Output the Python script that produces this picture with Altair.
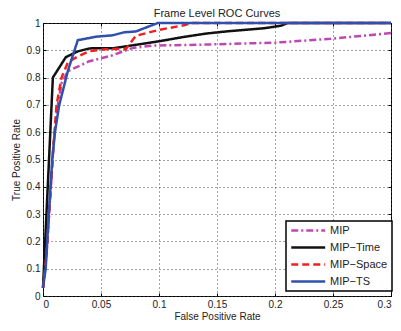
import altair as alt
import pandas as pd

series_names = ["MIP", "MIP−Time", "MIP−Space", "MIP−TS"]
series_colors = ["#bf48b0", "#111111", "#f02020", "#3050b0"]
series_dashes = [[7, 3, 2, 3], [1, 0], [7, 4], [1, 0]]

mip_fpr = [0, 0.003, 0.006, 0.009, 0.012, 0.016, 0.0216, 0.04, 0.06, 0.077, 0.094, 0.14, 0.2, 0.248, 0.3]
mip_tpr = [0.03, 0.15, 0.35, 0.55, 0.68, 0.78, 0.824, 0.86, 0.882, 0.908, 0.917, 0.921, 0.928, 0.942, 0.963]

time_fpr = [0, 0.0085, 0.0197, 0.03, 0.04, 0.0615, 0.08, 0.1, 0.12, 0.14, 0.16, 0.191, 0.205, 0.211, 0.3]
time_tpr = [0.03, 0.8, 0.875, 0.896, 0.907, 0.908, 0.92, 0.933, 0.948, 0.961, 0.97, 0.981, 0.99, 1.0, 1.0]

space_fpr = [0, 0.003, 0.006, 0.009, 0.0117, 0.016, 0.0216, 0.029, 0.04, 0.054, 0.0715, 0.08, 0.1, 0.123, 0.127, 0.3]
space_tpr = [0.03, 0.15, 0.35, 0.55, 0.7, 0.8, 0.857, 0.875, 0.897, 0.904, 0.905, 0.953, 0.975, 0.993, 1.0, 1.0]

ts_fpr = [0, 0.0023, 0.005, 0.008, 0.0103, 0.014, 0.0216, 0.03, 0.046, 0.06, 0.07, 0.08, 0.099, 0.3]
ts_tpr = [0.03, 0.1, 0.3, 0.5, 0.6, 0.7, 0.827, 0.937, 0.95, 0.955, 0.966, 0.969, 1.0, 1.0]

x_ticks = [0, 0.05, 0.1, 0.15, 0.2, 0.25, 0.3]
y_ticks = [0, 0.1, 0.2, 0.3, 0.4, 0.5, 0.6, 0.7, 0.8, 0.9, 1.0]

rows = []
for name, fx, fy in zip(series_names, [mip_fpr, time_fpr, space_fpr, ts_fpr],
                        [mip_tpr, time_tpr, space_tpr, ts_tpr]):
    for i, (a, b) in enumerate(zip(fx, fy)):
        rows.append({"series": name, "fpr": a, "tpr": b, "idx": i})
df = pd.DataFrame(rows)

FONT = "Liberation Sans"
xs = alt.Scale(domain=[0, 0.3], nice=False, zero=False)
ys = alt.Scale(domain=[0, 1], nice=False, zero=False)

lines = alt.Chart(df).mark_line(strokeWidth=2.5).encode(
    x=alt.X("fpr:Q", scale=xs, axis=alt.Axis(
        orient="bottom", values=x_ticks, format="~g", title="False Positive Rate",
        ticks=False, domain=False, grid=True, labelPadding=3, titlePadding=2)),
    y=alt.Y("tpr:Q", scale=ys, axis=alt.Axis(
        orient="left", values=y_ticks, format="~g", title="True Positive Rate",
        ticks=False, domain=False, grid=True, labelPadding=3, titlePadding=5)),
    color=alt.Color("series:N", sort=series_names,
                    scale=alt.Scale(domain=series_names, range=series_colors),
                    legend=alt.Legend(title=None, orient="none", legendX=243, legendY=198)),
    strokeDash=alt.StrokeDash("series:N", sort=series_names,
                              scale=alt.Scale(domain=series_names, range=series_dashes),
                              legend=alt.Legend(title=None, orient="none", legendX=243, legendY=198)),
    order="idx:Q",
)

def tick_axis(orient, vals):
    return alt.Axis(orient=orient, values=vals, labels=False, domain=False, grid=False,
                    ticks=True, tickSize=3, offset=-3, title=None, tickColor="black")

ticks_a = alt.Chart(df).mark_point(opacity=0, size=1).encode(
    x=alt.X("fpr:Q", scale=xs, axis=tick_axis("bottom", x_ticks)),
    y=alt.Y("tpr:Q", scale=ys, axis=tick_axis("left", y_ticks)),
)
ticks_b = alt.Chart(df).mark_point(opacity=0, size=1).encode(
    x=alt.X("fpr:Q", scale=xs, axis=tick_axis("top", x_ticks)),
    y=alt.Y("tpr:Q", scale=ys, axis=tick_axis("right", y_ticks)),
)

chart = alt.layer(lines, ticks_a, ticks_b).resolve_axis(
    x="independent", y="independent"
).properties(
    width=348, height=273,
    autosize=alt.AutoSizeParams(type="none"),
    padding={"left": 35, "top": 15, "right": 2, "bottom": 27},
    title=alt.TitleParams("Frame Level ROC Curves", fontSize=11, font=FONT,
                          fontWeight="normal", color="#222", offset=4, dy=5),
).configure_view(
    stroke="black", strokeWidth=1
).configure_axis(
    labelFont=FONT, labelFontSize=10, labelColor="#222",
    titleFont=FONT, titleFontSize=10, titleColor="#222", titleFontWeight="normal",
    gridColor="#444", gridDash=[1, 3], gridWidth=1, gridOpacity=1,
).configure_legend(
    labelFont=FONT, labelFontSize=11, labelColor="#222",
    symbolType="M-1,0H7", symbolSize=72, symbolStrokeWidth=2.5,
    labelOffset=29, rowPadding=5, padding=4,
    strokeColor="black", strokeWidth=1.5, fillColor="white",
)

chart.save("out.html", embed_options={"renderer": "svg", "actions": False})
